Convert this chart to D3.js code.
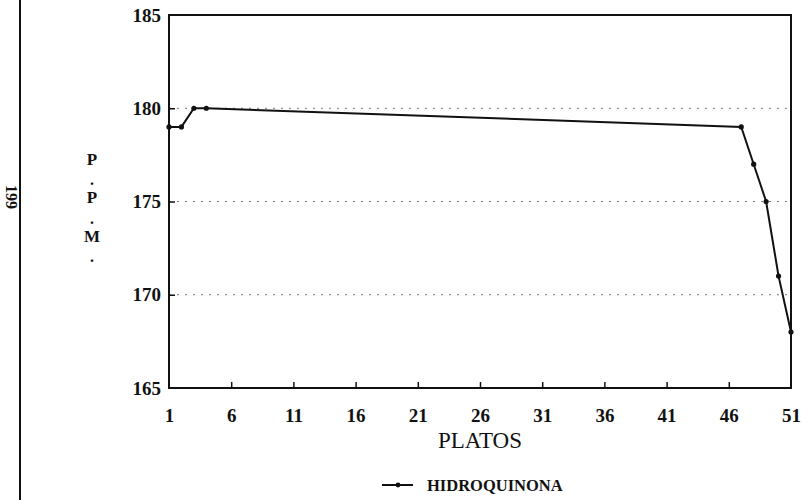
<!DOCTYPE html>
<html>
<head>
<meta charset="utf-8">
<script src="https://cdn.jsdelivr.net/npm/d3@7"></script>
<style>
  html, body { margin: 0; padding: 0; background: #fff; }
  svg { display: block; }
</style>
</head>
<body>
<svg id="chart" width="804" height="500"></svg>
<script>
// Hidroquinona concentration (p.p.m.) measured on each plate
const plates = [1, 2, 3, 4, 47, 48, 49, 50, 51];
const ppm = [179, 179, 180, 180, 179, 177, 175, 171, 168];
const xTicks = [1, 6, 11, 16, 21, 26, 31, 36, 41, 46, 51];
const yTicks = [165, 170, 175, 180, 185];
const gridValues = [170, 175, 180];
const seriesName = "HIDROQUINONA";
const xTitle = "PLATOS";
const yTitle = ["P", ".", "P", ".", "M", "."];
const pageNumber = "199";

const svg = d3.select("#chart");
const serif = "'Liberation Serif', 'DejaVu Serif', serif";

const x = d3.scaleLinear().domain([1, 51]).range([169, 791]);
const y = d3.scaleLinear().domain([165, 185]).range([388, 15]);

// page edge rule and page number
svg.append("line")
  .attr("x1", 20).attr("x2", 20).attr("y1", 0).attr("y2", 500)
  .attr("stroke", "#111").attr("stroke-width", 2);
svg.append("text")
  .attr("transform", "translate(6,185) rotate(90)")
  .attr("font-family", serif).attr("font-weight", "bold")
  .attr("font-size", 16).attr("fill", "#111")
  .text(pageNumber);

// dotted reference lines
svg.append("g").selectAll("line").data(gridValues).join("line")
  .attr("x1", x(1)).attr("x2", x(51))
  .attr("y1", d => y(d)).attr("y2", d => y(d))
  .attr("stroke", "#777").attr("stroke-width", 1)
  .attr("stroke-dasharray", "2,6");

// axes (ticks point inward)
const xAxis = svg.append("g")
  .attr("transform", `translate(0,${y(165)})`)
  .call(d3.axisBottom(x).tickValues(xTicks).tickSize(-6).tickPadding(21).tickFormat(d3.format("d")));
const yAxis = svg.append("g")
  .attr("transform", `translate(${x(1)},0)`)
  .call(d3.axisLeft(y).tickValues(yTicks).tickSize(-6).tickPadding(8).tickFormat(d3.format("d")));

[xAxis, yAxis].forEach(g => {
  g.select(".domain").remove();
  g.selectAll(".tick line").attr("stroke", "#111").attr("stroke-width", 1.5);
  g.selectAll(".tick text")
    .attr("font-family", serif).attr("font-weight", "bold")
    .attr("font-size", 19).attr("fill", "#111");
});
xAxis.selectAll(".tick").filter(d => d === 1 || d === 51).select("line").remove();
yAxis.selectAll(".tick").filter(d => d === 165 || d === 185).select("line").remove();

// plot frame
svg.append("rect")
  .attr("x", x(1)).attr("y", y(185))
  .attr("width", x(51) - x(1)).attr("height", y(165) - y(185))
  .attr("fill", "none").attr("stroke", "#111").attr("stroke-width", 2);

// series line and markers
const pts = plates.map((p, i) => [p, ppm[i]]);
svg.append("path")
  .datum(pts)
  .attr("fill", "none").attr("stroke", "#111").attr("stroke-width", 2)
  .attr("d", d3.line().x(d => x(d[0])).y(d => y(d[1])));
svg.append("g").selectAll("circle").data(pts).join("circle")
  .attr("cx", d => x(d[0])).attr("cy", d => y(d[1]))
  .attr("r", 2.6).attr("fill", "#111");

// axis titles
svg.append("text")
  .attr("x", 480).attr("y", 448)
  .attr("text-anchor", "middle")
  .attr("font-family", serif).attr("font-size", 23).attr("fill", "#111")
  .text(xTitle);

const yStep = [165, 182, 203, 221, 242, 259];
svg.append("g").selectAll("text").data(yTitle).join("text")
  .attr("x", 92)
  .attr("y", (d, i) => d === "." ? yStep[i] + 3 : yStep[i])
  .attr("text-anchor", "middle")
  .attr("font-family", serif).attr("font-weight", "bold")
  .attr("font-size", d => d === "." ? 16 : 17).attr("fill", "#111")
  .text(d => d);

// legend
const lg = svg.append("g");
lg.append("line")
  .attr("x1", 382).attr("x2", 413).attr("y1", 485).attr("y2", 485)
  .attr("stroke", "#111").attr("stroke-width", 2);
lg.append("circle").attr("cx", 398).attr("cy", 485).attr("r", 2.4).attr("fill", "#111");
lg.append("text")
  .attr("x", 427).attr("y", 491)
  .attr("font-family", serif).attr("font-weight", "bold")
  .attr("font-size", 16.5).attr("fill", "#111")
  .text(seriesName);
</script>
</body>
</html>
